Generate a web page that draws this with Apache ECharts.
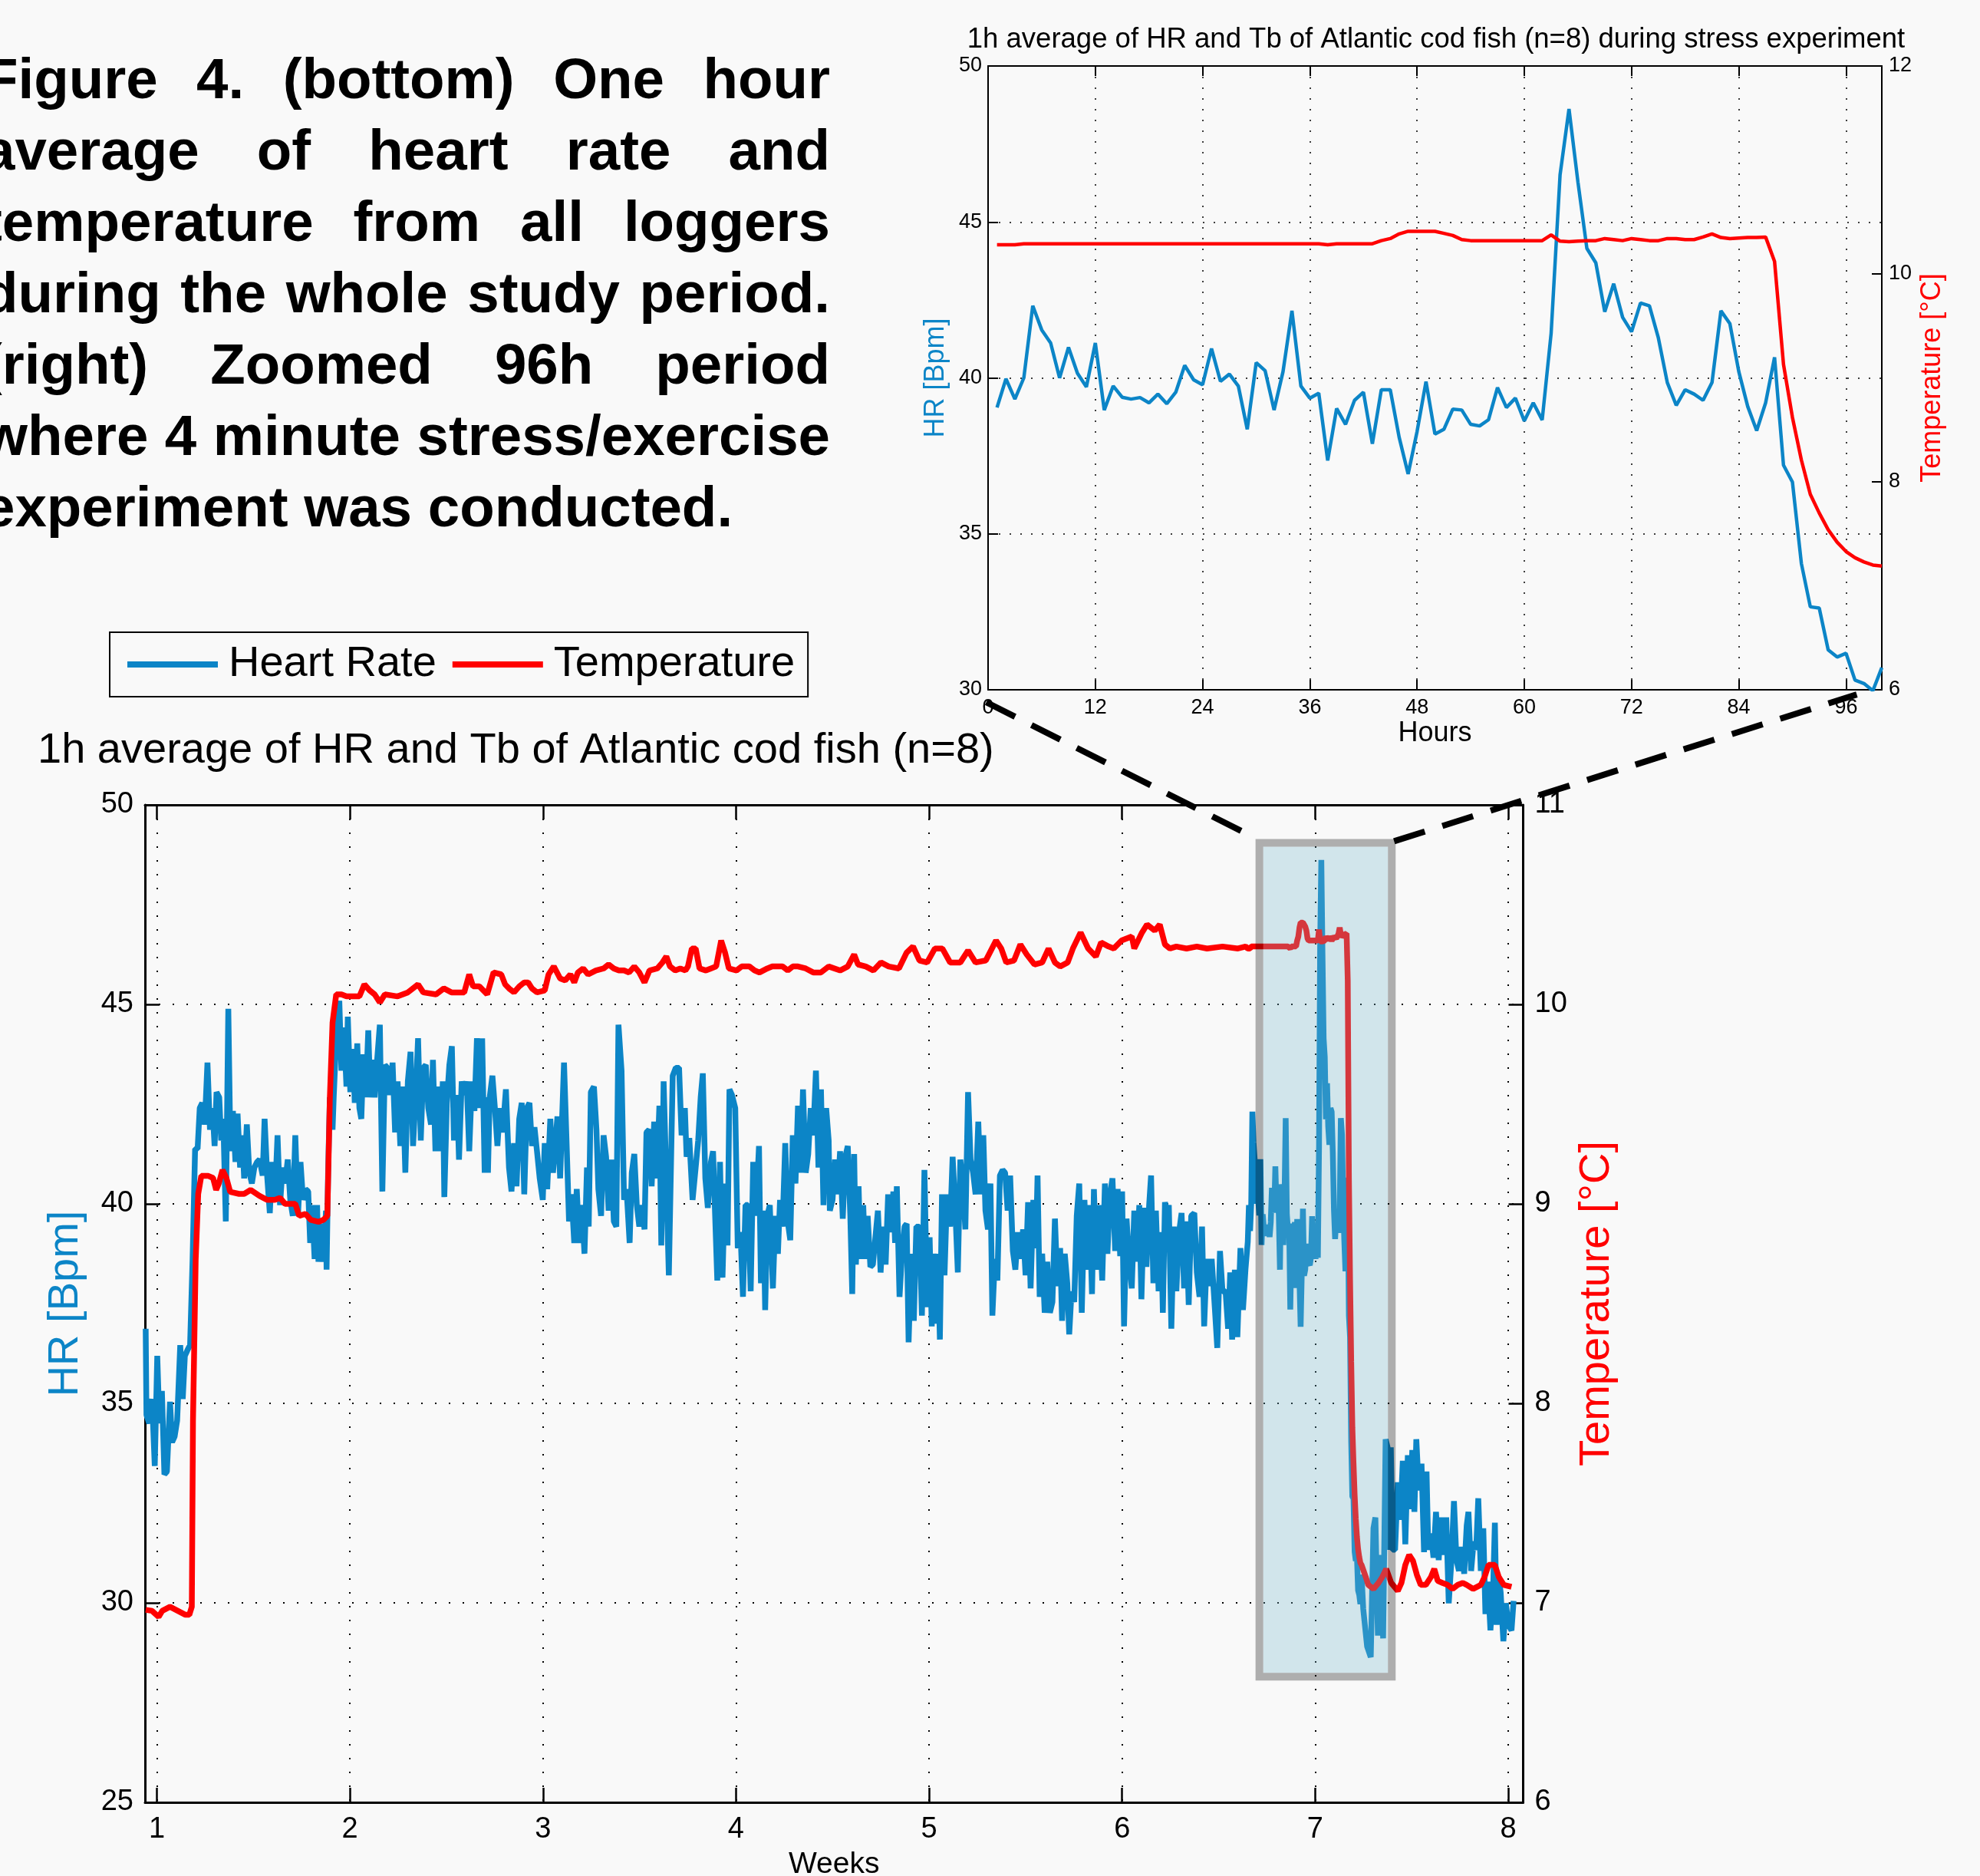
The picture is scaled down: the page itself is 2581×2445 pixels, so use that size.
<!DOCTYPE html>
<html>
<head>
<meta charset="utf-8">
<title>HR and Tb of Atlantic cod</title>
<script src="https://cdn.jsdelivr.net/npm/echarts@6.0.0/dist/echarts.min.js"></script>
<style>
  html, body { margin: 0; padding: 0; background: #f9f9f9; overflow: hidden; }
  #wrap { position: relative; width: 2581px; height: 2445px; }
  #main { position: absolute; left: 0; top: 0; width: 2581px; height: 2445px; }
  #caption { position: absolute; left: -22px; top: 56px; width: 1104px; z-index: 2;
    font-family: 'Liberation Sans', Arial, sans-serif; font-weight: bold; font-size: 74.5px; line-height: 93px; color: #000; }
  #caption .ln { display: flex; justify-content: space-between; white-space: nowrap; }
  #caption .ln.last { justify-content: flex-start; gap: 0.278em; }
</style>
</head>
<body>
<div id="wrap">
  <div id="main"></div>
  <div id="caption"></div>
</div>
<script>
var blue = '#0c85c7';
var red = '#ff0000';
var font = 'Liberation Sans';

var captionLines = [
  'Figure 4. (bottom) One hour',
  'average of heart rate and',
  'temperature from all loggers',
  'during the whole study period.',
  '(right) Zoomed 96h period',
  'where 4 minute stress/exercise',
  'experiment was conducted.'
];

// whole study, [week, HR] before the zoomed window
var hrEarly = [[0.942,36.87],[0.946,34.71],[0.960,34.50],[0.975,35.11],[0.989,33.43],[1.002,36.19],[1.013,34.50],[1.026,35.31],[1.039,33.22],[1.052,33.29],[1.068,35.04],[1.079,34.03],[1.092,34.17],[1.105,34.57],[1.121,36.46],[1.134,35.11],[1.145,36.19],[1.158,36.33],[1.172,36.46],[1.185,38.62],[1.198,41.38],[1.211,41.38],[1.222,42.40],[1.235,42.53],[1.248,41.99],[1.262,43.54],[1.275,41.86],[1.288,42.40],[1.299,41.45],[1.309,42.80],[1.323,42.67],[1.333,41.59],[1.344,42.13],[1.357,39.56],[1.370,44.89],[1.381,41.32],[1.394,42.33],[1.407,41.05],[1.418,42.26],[1.431,40.91],[1.442,41.72],[1.452,40.64],[1.466,41.99],[1.479,40.78],[1.492,40.51],[1.505,40.91],[1.519,41.05],[1.532,41.11],[1.548,40.71],[1.558,42.13],[1.572,40.64],[1.585,39.77],[1.598,41.05],[1.611,40.10],[1.625,41.72],[1.638,39.97],[1.651,40.91],[1.664,40.51],[1.678,41.11],[1.691,40.10],[1.704,39.70],[1.717,41.72],[1.731,39.70],[1.744,41.05],[1.757,40.10],[1.770,40.37],[1.784,40.31],[1.794,39.02],[1.804,39.97],[1.817,38.62],[1.830,39.97],[1.837,38.55],[1.850,39.50],[1.863,38.55],[1.876,39.83],[1.879,38.35],[1.887,40.78],[1.896,42.67],[1.910,41.86],[1.916,42.67],[1.929,44.15],[1.945,45.09],[1.956,43.34],[1.969,44.42],[1.982,42.94],[1.989,44.69],[2.002,42.80],[2.015,43.88],[2.025,42.53],[2.038,44.02],[2.049,42.40],[2.059,42.13],[2.070,43.75],[2.082,42.67],[2.095,44.35],[2.106,42.67],[2.119,43.61],[2.128,42.67],[2.141,43.61],[2.155,44.49],[2.168,40.31],[2.181,43.48],[2.194,43.41],[2.208,42.73],[2.221,43.54],[2.234,41.79],[2.247,43.07],[2.261,41.45],[2.274,42.94],[2.287,40.78],[2.300,43.07],[2.314,43.81],[2.327,41.45],[2.340,42.67],[2.353,44.15],[2.367,41.59],[2.380,43.41],[2.393,43.48],[2.406,42.40],[2.420,41.99],[2.430,43.61],[2.443,41.32],[2.457,42.94],[2.470,41.32],[2.481,43.07],[2.489,40.17],[2.502,42.53],[2.515,43.48],[2.528,43.95],[2.539,41.59],[2.555,42.73],[2.565,41.11],[2.579,43.07],[2.592,42.73],[2.605,43.07],[2.618,41.32],[2.632,43.07],[2.645,42.33],[2.658,44.15],[2.671,42.40],[2.685,44.15],[2.698,40.78],[2.711,42.67],
  [2.715,40.78],[2.724,42.67],[2.738,43.21],[2.751,42.40],[2.764,41.45],[2.777,42.40],[2.791,41.79],[2.808,42.87],[2.824,40.91],[2.837,40.31],[2.850,41.52],[2.863,40.44],[2.877,42.13],[2.890,42.53],[2.903,40.24],[2.916,42.40],[2.930,42.53],[2.943,41.45],[2.956,41.92],[2.969,41.32],[2.983,40.64],[2.999,40.10],[3.009,41.52],[3.022,40.37],[3.038,42.13],[3.052,40.78],[3.065,41.59],[3.075,42.19],[3.089,40.64],[3.099,42.13],[3.109,43.54],[3.122,41.59],[3.135,39.56],[3.148,40.24],[3.162,39.02],[3.175,40.37],[3.188,39.02],[3.201,39.97],[3.215,38.75],[3.228,40.91],[3.237,39.43],[3.248,42.80],[3.264,42.94],[3.277,41.86],[3.287,40.37],[3.301,39.70],[3.314,41.72],[3.327,41.18],[3.340,39.83],[3.354,41.11],[3.367,39.56],[3.380,39.43],[3.391,44.49],[3.407,43.34],[3.420,40.10],[3.433,40.37],[3.449,39.02],[3.460,40.78],[3.473,41.25],[3.486,39.97],[3.499,39.43],[3.513,39.97],[3.526,39.36],[3.536,41.79],[3.550,41.86],[3.563,40.44],[3.576,42.06],[3.589,40.64],[3.603,42.46],[3.613,38.96],[3.625,43.07],[3.638,40.78],[3.652,38.21],[3.672,43.21],[3.688,43.41],[3.705,43.41],[3.718,41.72],[3.735,42.40],[3.744,41.18],[3.758,41.65],[3.775,40.10],[3.791,40.91],[3.804,41.59],[3.817,42.67],[3.828,43.27],[3.841,40.64],[3.854,39.90],[3.870,41.05],[3.881,41.32],[3.890,39.97],[3.903,38.08],[3.917,41.05],[3.930,38.15],[3.943,40.51],[3.956,38.96],[3.966,42.87],[3.979,42.73],[3.996,42.40],[4.009,38.89],[4.023,39.29],[4.036,37.67],[4.049,39.97],[4.062,39.97],[4.076,37.81],[4.089,41.05],[4.102,39.70],[4.119,41.45],[4.129,38.01],[4.142,39.83],[4.151,37.34],[4.162,39.70],[4.175,39.97],[4.191,37.88],[4.204,39.70],[4.217,38.75],[4.228,40.10],[4.241,39.43],[4.255,41.52],[4.268,39.56],[4.281,39.09],[4.294,41.72],[4.308,40.51],[4.321,42.46],[4.334,40.78],[4.347,42.87],[4.361,40.78],[4.374,41.25],[4.387,42.40],[4.400,41.72],[4.414,43.34],[4.427,40.91],[4.440,42.87],[4.453,39.97],[4.467,42.40],[4.480,41.59],
  [4.486,39.83],[4.500,40.10],[4.513,41.11],[4.526,40.24],[4.539,41.32],[4.553,39.63],[4.566,41.18],[4.579,41.45],[4.592,39.70],[4.602,37.74],[4.612,41.25],[4.621,38.48],[4.635,40.44],[4.645,38.62],[4.659,39.97],[4.669,38.62],[4.682,39.70],[4.696,38.42],[4.709,38.48],[4.722,39.16],[4.735,39.83],[4.749,38.28],[4.762,39.43],[4.775,38.48],[4.788,40.24],[4.802,39.29],[4.815,40.31],[4.824,39.02],[4.833,40.44],[4.847,37.67],[4.860,38.75],[4.873,39.43],[4.884,39.50],[4.894,36.53],[4.908,38.75],[4.921,37.07],[4.934,39.43],[4.950,39.43],[4.963,37.20],[4.976,40.85],[4.990,37.41],[5.003,39.16],[5.014,36.93],[5.023,38.75],[5.036,37.00],[5.045,38.75],[5.056,36.60],[5.067,40.24],[5.080,38.21],[5.093,40.24],[5.109,39.43],[5.122,41.18],[5.135,39.97],[5.149,38.28],[5.162,41.11],[5.175,40.51],[5.188,39.36],[5.202,42.80],[5.215,41.11],[5.228,40.78],[5.241,40.24],[5.255,42.06],[5.268,40.24],[5.281,41.72],[5.292,39.83],[5.305,39.36],[5.318,40.51],[5.328,37.20],[5.341,38.62],[5.354,38.08],[5.367,40.71],[5.381,40.85],[5.394,40.78],[5.407,39.83],[5.420,40.71],[5.434,38.82],[5.447,38.35],[5.460,39.29],[5.473,38.62],[5.487,39.36],[5.500,38.21],[5.513,40.04],[5.526,37.88],[5.540,40.10],[5.553,38.89],[5.562,40.71],[5.573,37.67],[5.586,38.75],[5.599,37.27],[5.612,38.55],[5.626,37.27],[5.639,37.54],[5.652,39.63],[5.665,37.94],[5.679,38.89],[5.689,37.07],[5.703,38.75],[5.716,38.01],[5.726,36.73],[5.738,37.81],[5.752,37.54],[5.765,39.70],[5.778,40.51],[5.791,37.27],[5.805,40.10],[5.818,38.35],[5.831,39.97],[5.844,37.74],[5.854,40.37],[5.867,38.35],[5.880,39.97],[5.897,38.08],[5.911,40.51],[5.924,38.75],[5.937,40.24],[5.950,40.64],[5.964,38.82],[5.977,40.37],[5.990,38.69],[6.000,40.31],[6.010,36.93],[6.023,39.63],[6.036,38.62],[6.050,37.88],[6.063,39.83],[6.076,38.55],[6.089,39.97],[6.100,37.61],[6.113,39.90],[6.126,38.42],[6.140,39.97],[6.150,40.71],[6.162,38.01],[6.175,39.83],[6.189,37.81],[6.202,39.29],[6.211,37.27],[6.222,40.04],[6.235,39.70],
  [6.242,39.97],[6.255,36.87],[6.268,39.43],[6.281,37.81],[6.295,39.29],[6.308,39.77],[6.321,37.88],[6.332,39.56],[6.345,37.47],[6.358,39.70],[6.374,39.77],[6.387,38.28],[6.401,37.67],[6.414,39.43],[6.425,36.93],[6.438,38.62],[6.451,37.94],[6.464,38.62],[6.480,37.41],[6.493,36.39],[6.507,38.82],[6.520,37.81],[6.536,37.81],[6.549,36.87],[6.560,38.28],[6.570,36.60],[6.584,38.35],[6.597,36.66],[6.613,38.89],[6.626,37.34],[6.639,38.35]];

// [week, HR] after the zoomed window
var hrLate = [[7.249,29.85],[7.269,28.91],[7.288,28.64],[7.302,31.87],[7.312,32.14],[7.325,29.18],[7.341,31.20],[7.352,29.11],[7.365,34.10],[7.375,33.90],[7.381,31.33],[7.392,33.90],[7.401,31.33],[7.414,31.33],[7.428,33.02],[7.441,32.08],[7.454,33.56],[7.467,31.47],[7.480,33.70],[7.494,32.35],[7.503,33.83],[7.514,32.28],[7.524,34.10],[7.537,32.82],[7.551,33.49],[7.564,31.27],[7.577,33.29],[7.586,31.33],[7.600,31.74],[7.613,31.13],[7.626,32.28],[7.640,31.07],[7.653,32.14],[7.666,31.20],[7.679,32.14],[7.692,29.99],[7.706,31.07],[7.719,32.55],[7.732,31.07],[7.745,30.80],[7.759,31.40],[7.772,30.73],[7.785,31.94],[7.794,32.28],[7.808,30.80],[7.821,31.54],[7.834,31.33],[7.845,32.62],[7.858,30.80],[7.871,31.87],[7.882,29.72],[7.895,30.53],[7.908,29.31],[7.922,30.39],[7.931,32.01],[7.940,29.45],[7.951,30.66],[7.961,30.26],[7.975,29.04],[7.988,29.99],[8.001,29.45],[8.017,29.31],[8.028,30.05]];

// [week, temperature]
var tempEarly = [[0.942,6.965],[0.975,6.96],[1.009,6.93],[1.028,6.96],[1.068,6.98],[1.108,6.96],[1.148,6.94],[1.168,6.94],[1.181,6.98],[1.187,7.91],[1.201,8.72],[1.214,9.05],[1.230,9.14],[1.267,9.14],[1.291,9.13],[1.307,9.07],[1.320,9.10],[1.340,9.17],[1.360,9.13],[1.380,9.06],[1.426,9.05],[1.452,9.05],[1.486,9.07],[1.532,9.04],[1.572,9.02],[1.611,9.02],[1.638,9.03],[1.664,9.00],[1.717,9.00],[1.737,8.94],[1.770,8.95],[1.797,8.92],[1.837,8.91],[1.863,8.92],[1.883,8.94],[1.896,9.53],[1.910,9.91],[1.929,10.05],[1.956,10.05],[1.982,10.04],[2.049,10.04],[2.075,10.10],[2.102,10.07],[2.128,10.05],[2.155,10.01],[2.181,10.05],[2.247,10.04],[2.300,10.06],[2.353,10.10],[2.380,10.06],[2.446,10.05],[2.486,10.08],[2.526,10.06],[2.592,10.06],[2.618,10.15],[2.638,10.09],[2.671,10.09],[2.711,10.05],
  [2.744,10.16],[2.784,10.15],[2.804,10.10],[2.824,10.08],[2.850,10.06],[2.877,10.09],[2.903,10.11],[2.923,10.11],[2.943,10.08],[2.969,10.06],[3.009,10.07],[3.029,10.15],[3.056,10.19],[3.089,10.13],[3.115,10.12],[3.142,10.15],[3.162,10.11],[3.181,10.16],[3.208,10.18],[3.234,10.15],[3.274,10.17],[3.314,10.18],[3.340,10.20],[3.367,10.18],[3.393,10.17],[3.420,10.17],[3.446,10.16],[3.473,10.19],[3.499,10.16],[3.526,10.11],[3.552,10.17],[3.592,10.18],[3.619,10.21],[3.639,10.24],[3.658,10.19],[3.685,10.17],[3.711,10.18],[3.738,10.17],[3.751,10.19],[3.771,10.28],[3.791,10.28],[3.811,10.18],[3.844,10.17],[3.870,10.18],[3.897,10.19],[3.923,10.32],[3.943,10.26],[3.963,10.18],[4.003,10.17],[4.029,10.19],[4.069,10.19],[4.096,10.17],[4.122,10.16],[4.162,10.18],[4.188,10.19],[4.215,10.19],[4.241,10.19],[4.268,10.17],[4.294,10.19],[4.321,10.19],[4.361,10.18],[4.400,10.16],[4.440,10.16],[4.480,10.19],
  [4.539,10.17],[4.579,10.19],[4.612,10.25],[4.632,10.20],[4.672,10.19],[4.712,10.17],[4.751,10.21],[4.791,10.19],[4.844,10.18],[4.884,10.26],[4.917,10.29],[4.950,10.22],[4.990,10.21],[5.030,10.28],[5.069,10.28],[5.109,10.21],[5.162,10.21],[5.202,10.27],[5.241,10.21],[5.294,10.22],[5.347,10.32],[5.374,10.28],[5.400,10.21],[5.440,10.22],[5.473,10.30],[5.506,10.25],[5.546,10.20],[5.586,10.21],[5.619,10.28],[5.652,10.21],[5.679,10.19],[5.718,10.21],[5.745,10.28],[5.785,10.36],[5.824,10.28],[5.864,10.24],[5.891,10.31],[5.930,10.29],[5.957,10.28],[5.997,10.32],[6.050,10.34],[6.063,10.28],[6.103,10.36],[6.129,10.40],[6.169,10.37],[6.195,10.40],[6.222,10.30],[6.248,10.28],[6.281,10.29],[6.334,10.28],[6.387,10.29],[6.440,10.28],[6.520,10.29],[6.600,10.28],[6.640,10.29]];

var tempLate = [[7.262,7.13],[7.275,7.09],[7.302,7.07],[7.328,7.10],[7.348,7.13],[7.368,7.17],[7.394,7.10],[7.428,7.06],[7.447,7.10],[7.467,7.19],[7.487,7.24],[7.507,7.21],[7.527,7.14],[7.547,7.09],[7.573,7.09],[7.600,7.13],[7.617,7.17],[7.635,7.11],[7.659,7.10],[7.686,7.09],[7.712,7.07],[7.739,7.09],[7.765,7.10],[7.785,7.09],[7.818,7.07],[7.858,7.09],[7.878,7.13],[7.898,7.19],[7.931,7.19],[7.951,7.13],[7.977,7.09],[8.017,7.08]];

// zoomed 96h window, one value per hour (hour 1..100)
var hrHourly = [39.05,39.97,39.32,40.0,42.31,41.54,41.12,40.0,40.98,40.15,
  39.71,41.12,38.97,39.74,39.38,39.32,39.37,39.2,39.48,39.17,
  39.54,40.4,39.94,39.78,40.94,39.89,40.12,39.74,38.35,40.49,
  40.23,38.97,40.2,42.15,39.74,39.35,39.51,37.35,39.02,38.51,
  39.28,39.54,37.89,39.62,39.62,38.09,36.92,38.28,39.88,38.2,
  38.35,39.0,38.97,38.51,38.46,38.66,39.69,39.05,39.35,38.62,
  39.2,38.65,41.43,46.51,48.62,46.28,44.15,43.69,42.12,43.02,
  41.94,41.48,42.4,42.31,41.28,39.85,39.12,39.62,39.48,39.28,
  39.85,42.15,41.74,40.2,39.08,38.31,39.2,40.66,37.2,36.66,
  34.05,32.66,32.62,31.28,31.05,31.17,30.31,30.2,29.97,30.71];
var tempHourly = [10.28,10.28,10.28,10.29,10.29,10.29,10.29,10.29,10.29,10.29,
  10.29,10.29,10.29,10.29,10.29,10.29,10.29,10.29,10.29,10.29,
  10.29,10.29,10.29,10.29,10.29,10.29,10.29,10.29,10.29,10.29,
  10.29,10.29,10.29,10.29,10.29,10.29,10.29,10.28,10.29,10.29,
  10.29,10.29,10.29,10.32,10.34,10.385,10.41,10.41,10.41,10.41,
  10.39,10.37,10.33,10.32,10.32,10.32,10.32,10.32,10.32,10.32,
  10.32,10.32,10.375,10.315,10.31,10.315,10.32,10.32,10.34,10.33,
  10.32,10.34,10.33,10.32,10.32,10.34,10.34,10.33,10.33,10.355,
  10.385,10.35,10.34,10.345,10.35,10.35,10.355,10.12,9.13,8.62,
  8.21,7.88,7.70,7.54,7.42,7.33,7.27,7.23,7.20,7.19];

var insetStartWeek = 6.645;   // week at hour 0 of the zoomed window
var weekTicks = [1, 2, 3, 4, 5, 6, 7, 8];
var hourTicks = [0, 12, 24, 36, 48, 60, 72, 84, 96];
var zoomBox = [6.711, 49.05, 7.397, 28.15];   // highlighted window: week/HR corners
var linkEnds = [[-0.2, 29.6], [97.2, 29.85]];  // inset hour/HR where connectors end

// caption
var cap = document.getElementById('caption');
captionLines.forEach(function (line, i) {
  var div = document.createElement('div');
  div.className = 'ln' + (i === captionLines.length - 1 ? ' last' : '');
  line.split(' ').forEach(function (w) {
    var s = document.createElement('span');
    s.textContent = w;
    div.appendChild(s);
  });
  cap.appendChild(div);
});

function byHour(arr) { return arr.map(function (v, i) { return [i + 1, v]; }); }
function byWeek(arr) { return arr.map(function (v, i) { return [insetStartWeek + (i + 1) / 168, v]; }); }

var hrMain = hrEarly.concat(byWeek(hrHourly), hrLate);
var tempMain = tempEarly.concat(byWeek(tempHourly), tempLate);

var dotted = function (w, gap) { return { show: true, lineStyle: { color: '#000', width: w, type: [2, gap] } }; };
var txt = function (size, color) { return { fontSize: size, color: color || '#000', fontFamily: font }; };
var axLine = function (w) { return { show: true, onZero: false, lineStyle: { color: '#000', width: w } }; };

var chart = echarts.init(document.getElementById('main'));

var option = {
  animation: false,
  backgroundColor: '#f9f9f9',
  grid: [
    { left: 189, top: 1049, width: 1796.5, height: 1300, outerBoundsMode: 'none', containLabel: false },
    { left: 1288, top: 86, width: 1165, height: 813, outerBoundsMode: 'none', containLabel: false }
  ],
  legend: {
    left: 143, top: 824,
    data: [{ name: 'Heart Rate', icon: 'rect' }, { name: 'Temperature', icon: 'rect' }],
    itemWidth: 118, itemHeight: 8, itemGap: 21,
    padding: [14, 17, 14, 23],
    borderColor: '#000', borderWidth: 2,
    selectedMode: false,
    textStyle: { fontSize: 56, color: '#000', fontFamily: font, padding: [0, 0, 0, 9] }
  },
  xAxis: [
    { gridIndex: 0, type: 'value', position: 'bottom', min: 0.9384, max: 8.0775,
      axisLine: axLine(3),
      axisTick: { inside: true, length: 19, customValues: weekTicks, lineStyle: { color: '#000', width: 2.5 } },
      axisLabel: { customValues: weekTicks, margin: 17, fontSize: 38, color: '#000', fontFamily: font },
      splitLine: dotted(2, 16),
      name: 'Weeks', nameLocation: 'middle', nameGap: 62, nameTextStyle: txt(39) },
    { gridIndex: 0, type: 'value', position: 'top', min: 0.9384, max: 8.0775,
      axisLine: axLine(3),
      axisTick: { inside: true, length: 19, customValues: weekTicks, lineStyle: { color: '#000', width: 2.5 } },
      axisLabel: { show: false }, splitLine: { show: false } },
    { gridIndex: 1, type: 'value', position: 'bottom', min: 0, max: 100,
      axisLine: axLine(2),
      axisTick: { inside: true, length: 13, customValues: hourTicks, lineStyle: { color: '#000', width: 2 } },
      axisLabel: { customValues: hourTicks, margin: 10, fontSize: 27, color: '#000', fontFamily: font },
      splitLine: dotted(1.5, 12),
      name: 'Hours', nameLocation: 'middle', nameGap: 39, nameTextStyle: txt(36) },
    { gridIndex: 1, type: 'value', position: 'top', min: 0, max: 100,
      axisLine: axLine(2),
      axisTick: { inside: true, length: 13, customValues: hourTicks, lineStyle: { color: '#000', width: 2 } },
      axisLabel: { show: false }, splitLine: { show: false } }
  ],
  yAxis: [
    { gridIndex: 0, type: 'value', position: 'left', min: 25, max: 50, interval: 5,
      axisLine: axLine(3),
      axisTick: { inside: true, length: 19, lineStyle: { color: '#000', width: 2.5 } },
      axisLabel: { margin: 15, fontSize: 38, color: '#000', fontFamily: font },
      splitLine: dotted(2, 16),
      name: 'HR [Bpm]', nameLocation: 'middle', nameGap: 75, nameTextStyle: txt(56, blue) },
    { gridIndex: 0, type: 'value', position: 'right', min: 6, max: 11, interval: 1,
      axisLine: axLine(3),
      axisTick: { inside: true, length: 19, lineStyle: { color: '#000', width: 2.5 } },
      axisLabel: { margin: 15, fontSize: 38, color: '#000', fontFamily: font },
      splitLine: { show: false },
      name: 'Temperature [°C]', nameLocation: 'middle', nameGap: 68, nameTextStyle: txt(56, red) },
    { gridIndex: 1, type: 'value', position: 'left', min: 30, max: 50, interval: 5,
      axisLine: axLine(2),
      axisTick: { inside: true, length: 13, lineStyle: { color: '#000', width: 2 } },
      axisLabel: { margin: 8, fontSize: 27, color: '#000', fontFamily: font },
      splitLine: dotted(1.5, 12),
      name: 'HR [Bpm]', nameLocation: 'middle', nameGap: 50, nameTextStyle: txt(36, blue) },
    { gridIndex: 1, type: 'value', position: 'right', min: 6, max: 12, interval: 2,
      axisLine: axLine(2),
      axisTick: { inside: true, length: 13, lineStyle: { color: '#000', width: 2 } },
      axisLabel: { margin: 9, fontSize: 27, color: '#000', fontFamily: font },
      splitLine: { show: false },
      name: 'Temperature [°C]', nameLocation: 'middle', nameGap: 48, nameTextStyle: txt(36, red) }
  ],
  series: [
    { name: 'Heart Rate', type: 'line', xAxisIndex: 0, yAxisIndex: 0, data: hrMain, symbol: 'none',
      lineStyle: { color: blue, width: 7.5 }, itemStyle: { color: blue }, z: 2 },
    { name: 'Temperature', type: 'line', xAxisIndex: 0, yAxisIndex: 1, data: tempMain, symbol: 'none',
      lineStyle: { color: red, width: 7.5 }, itemStyle: { color: red }, z: 3 },
    { name: 'Heart Rate', type: 'line', xAxisIndex: 2, yAxisIndex: 2, data: byHour(hrHourly), symbol: 'none',
      lineStyle: { color: blue, width: 4.5 }, itemStyle: { color: blue }, z: 2 },
    { name: 'Temperature', type: 'line', xAxisIndex: 2, yAxisIndex: 3, data: byHour(tempHourly), symbol: 'none',
      lineStyle: { color: red, width: 4.5 }, itemStyle: { color: red }, z: 3 },
    { type: 'custom', xAxisIndex: 0, yAxisIndex: 0, z: 10, silent: true, data: [zoomBox],
      renderItem: function (params, api) {
        var a = api.coord([api.value(0), api.value(1)]);
        var b = api.coord([api.value(2), api.value(3)]);
        var w = b[0] - a[0], h = b[1] - a[1];
        return { type: 'group', children: [
          { type: 'rect', shape: { x: a[0] + 5, y: a[1] + 5, width: w - 10, height: h - 10 },
            style: { fill: 'rgba(115,181,201,0.3)' } },
          { type: 'rect', shape: { x: a[0], y: a[1], width: w, height: h },
            style: { fill: 'none', stroke: 'rgba(0,0,0,0.3)', lineWidth: 10 } }
        ] };
      } }
  ],
  graphic: [
    { id: 'mainTitle', type: 'text', x: 49, y: 979,
      style: { text: '1h average of HR and Tb of Atlantic cod fish (n=8)', fontSize: 56, fontFamily: font, fill: '#000', align: 'left', verticalAlign: 'middle' } },
    { id: 'insetTitle', type: 'text', x: 1872, y: 52,
      style: { text: '1h average of HR and Tb of Atlantic cod fish (n=8) during stress experiment', fontSize: 36.5, fontFamily: font, fill: '#000', align: 'center', verticalAlign: 'middle' } }
  ]
};

chart.setOption(option);

// dashed connectors from the highlighted window to the inset
var tl = chart.convertToPixel({ xAxisIndex: 0, yAxisIndex: 0 }, [zoomBox[0], zoomBox[1]]);
var tr = chart.convertToPixel({ xAxisIndex: 0, yAxisIndex: 0 }, [zoomBox[2], zoomBox[1]]);
var e0 = chart.convertToPixel({ xAxisIndex: 2, yAxisIndex: 2 }, linkEnds[0]);
var e1 = chart.convertToPixel({ xAxisIndex: 2, yAxisIndex: 2 }, linkEnds[1]);
var dash = { stroke: '#000', lineWidth: 8, lineDash: [42, 24] };
chart.setOption({
  graphic: [
    { id: 'linkL', type: 'line', z: 20, shape: { x1: e0[0], y1: e0[1], x2: tl[0] - 3, y2: tl[1] - 5 }, style: dash },
    { id: 'linkR', type: 'line', z: 20, shape: { x1: tr[0] + 3, y1: tr[1] - 2, x2: e1[0], y2: e1[1] }, style: dash }
  ]
});
</script>
</body>
</html>
